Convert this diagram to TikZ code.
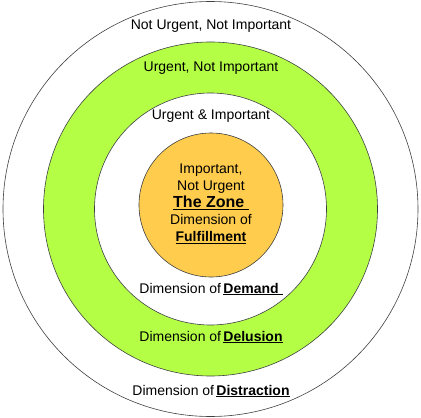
\documentclass[tikz,border=0pt]{standalone}
\usepackage{fontspec}
\setmainfont{Liberation Sans}
\usetikzlibrary{positioning}

\definecolor{ringgreen}{RGB}{180,255,70}
\definecolor{zoneorange}{RGB}{255,204,77}

\begin{document}
\begin{tikzpicture}[
    x=1pt, y=1pt,
    ring/.style={
      draw=black!75,
      line width=0.6pt,
      circle,
      inner sep=0pt
    },
    lbl/.style={
      font=\fontsize{14}{17}\selectfont,
      inner sep=0pt,
      align=center
    }
  ]
    \useasboundingbox (-210.5,-209) rectangle (210.5,209);

    % rings, outside in
    \node[ring, fill=white, minimum size=415pt] (distraction) at (0,0) {};
    \node[ring, fill=ringgreen, minimum size=334pt] (delusion) at (0,0) {};
    \node[ring, fill=white, minimum size=232pt] (demand) at (0,0) {};
    \node[ring, fill=zoneorange, minimum size=144pt] (zone) at (0.5,4) {};

    % labels
    \node[lbl] (notnot) at (0.5,183) {Not Urgent, Not Important};
    \node[lbl] (urgnot) at (0.5,141) {Urgent, Not Important};
    \node[lbl] (urgimp) at (0.5,93)  {Urgent \& Important};
    \node[lbl] (zonetxt) at (0.5,5) {Important,\\Not Urgent\\{\fontsize{16}{18}\selectfont\bfseries\underline{The Zone\ }}\\Dimension of\\\textbf{\underline{Fulfillment}}};
    \node[lbl] (demandtxt) at (0.5,-80) {Dimension of\,\textbf{\underline{Demand\ }}};
    \node[lbl] (delusiontxt) at (0.5,-128) {Dimension of\,\textbf{\underline{Delusion}}};
    \node[lbl] (distracttxt) at (0.5,-182) {Dimension of\,\textbf{\underline{Distraction}}};
  \end{tikzpicture}
\end{document}
